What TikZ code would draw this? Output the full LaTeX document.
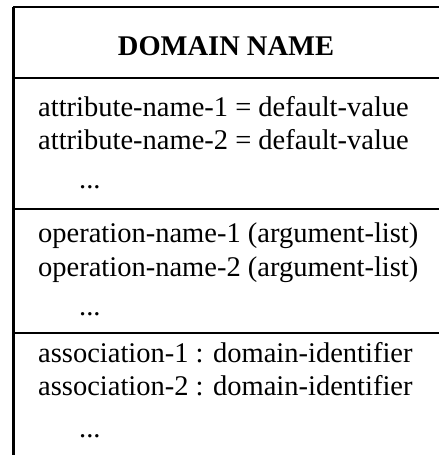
\documentclass[tikz,border=0pt]{standalone}
\usepackage{fontspec}
\setmainfont{Liberation Serif}
\begin{document}
\begin{tikzpicture}[x=1pt,y=-1pt,
			every node/.style={inner sep=0pt,font=\fontsize{28.5}{34}\selectfont},
			entry/.style={anchor=base west},
			more/.style={anchor=base west},
			rule/.style={line width=2.4pt},
			side/.style={line width=3pt}]
\useasboundingbox (0,0) rectangle (439,459);
% frame
\coordinate (TL) at (13,7);
\coordinate (TR) at (439,7);
\coordinate (BL) at (13,455);
\coordinate (Aw) at (13,78);
\coordinate (Ae) at (439,78);
\coordinate (Ow) at (13,209);
\coordinate (Oe) at (439,209);
\coordinate (Sw) at (13,333);
\coordinate (Se) at (439,333);
\draw[rule] (TL) -- (TR);
\draw[rule] (Aw) -- (Ae);
\draw[rule] (Ow) -- (Oe);
\draw[rule] (Sw) -- (Se);
\draw[side] (TL) -- (BL);
% compartments
\node[anchor=base,font=\fontsize{28.5}{34}\selectfont\bfseries](name) at (226,55){DOMAIN NAME};
\node[entry](attr1) at (38,116){attribute-name-1 = default-value};
\node[entry](attr2) at (38,149){attribute-name-2 = default-value};
\node[more](attr3) at (79,188){...};
\node[entry](op1) at (38,242){operation-name-1 (argument-list)};
\node[entry](op2) at (38,276){operation-name-2 (argument-list)};
\node[more](op3) at (79,315){...};
\node[entry](as1) at (38,362){association-1 : domain-identifier};
\node[entry](as2) at (38,395){association-2 : domain-identifier};
\node[more](as3) at (79,437){...};
\end{tikzpicture}
\end{document}
